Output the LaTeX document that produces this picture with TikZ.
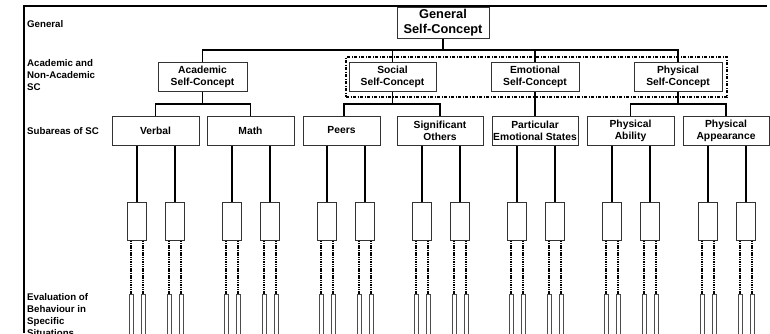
\documentclass[tikz,border=0pt]{standalone}
\usepackage{fontspec}
\setmainfont{Liberation Sans}
\begin{document}
\begin{tikzpicture}[x=1pt,y=-1pt,
  conn/.style = {line width=1.6pt},
  box/.style = {draw=black!80,line width=1pt,fill=white,align=center,inner sep=0pt,
     minimum height=29pt,font=\fontsize{10.3}{12}\selectfont\bfseries},
  lbl/.style = {anchor=west,align=left,inner sep=0pt,
     font=\fontsize{9.7}{12}\selectfont\bfseries},
  sbox/.style = {draw=black!80,line width=1pt,minimum width=19pt,
     minimum height=38pt,inner sep=0pt},
  tbox/.style = {draw=black!70,line width=0.9pt,minimum width=4pt,
     minimum height=50pt,inner sep=0pt,anchor=north},
  dline/.style = {line width=1.5pt,dash pattern=on 1.5pt off 0.8pt},
  grpline/.style = {draw,line width=1.2pt,
     dash pattern=on 3pt off 1.5pt on 1pt off 1.5pt}]
   \useasboundingbox (0,0) rectangle (770,333);
   \clip (0,0) rectangle (770,333);
   \draw[line width=1.3pt] (24,333) -- (24,6) -- (767,6);
   % row labels
   \node[lbl] (lgen) at (27,24) {General};
   \node[lbl] (lnon) at (27,75) {Academic and\\Non-Academic\\SC};
   \node[lbl] (lsub) at (27,131) {Subareas of SC};
   \node[lbl] (leval) at (27,315) {Evaluation of\\Behaviour in\\Specific\\Situations};
   % top levels
   \node[box,minimum width=92pt,minimum height=31pt,
     font=\fontsize{12.8}{15}\selectfont\bfseries] (gen) at (443,22.5) {General\\Self-Concept};
   \node[grpline,minimum width=381pt,minimum height=40pt] (nonac) at (536.5,77) {};
   \node[box,minimum width=89pt] (acad) at (202.5,76.5) {Academic\\Self-Concept};
   \node[box,minimum width=87pt] (soc) at (392.5,76.5) {Social\\Self-Concept};
   \node[box,minimum width=88pt] (emo) at (535,76.5) {Emotional\\Self-Concept};
   \node[box,minimum width=88pt] (phy) at (678,76.5) {Physical\\Self-Concept};
   % subareas
   \node[box,minimum width=87pt] (verbal) at (155.5,130.5) {Verbal};
   \node[box,minimum width=87pt] (math) at (250.5,130.5) {Math};
   \node[box,minimum width=77pt] (peers) at (341.5,130.5) {Peers};
   \node[box,minimum width=86pt] (sig) at (440,130.5) {Significant\\Others};
   \node[box,minimum width=86pt] (emos) at (535,130.5) {Particular\\Emotional States};
   \node[box,minimum width=87pt] (abil) at (630.5,130.5) {Physical\\Ability};
   \node[box,minimum width=86pt] (appear) at (726,130.5) {Physical\\Appearance};
   % tree
   \coordinate (gj) at (443,50);
   \coordinate (aj) at (202.5,104);
   \coordinate (sj) at (392.5,104);
   \coordinate (pj) at (678,104);
   \draw[conn] (gen.south) -- (gj);
   \draw[conn] (acad.north) |- (gj) -| (phy.north);
   \draw[conn] (soc.north |- gj) -- (soc.north);
   \draw[conn] (emo.north |- gj) -- (emo.north);
   \draw[conn] (acad.south) -- (aj);
   \draw[conn] (verbal.north) |- (aj) -| (math.north);
   \draw[conn] (soc.south) -- (sj);
   \draw[conn] ([xshift=2.5pt]peers.north) |- (sj) -| (sig.north);
   \draw[conn] (emo.south) -- (emos.north);
   \draw[conn] (phy.south) -- (pj);
   \draw[conn] (abil.north) |- (pj) -| (appear.north);
   % lower levels
   \foreach \x/\p [count=\i] in {137/verbal,175/verbal,232/math,270/math,
       327/peers,365/peers,422/sig,460/sig,517/emos,555/emos,
       612/abil,650/abil,708/appear,746/appear}
   {
     \node[sbox] (sb\i) at (\x,221) {};
     \node[tbox] (ta\i) at (\x-6,294) {};
     \node[tbox] (tb\i) at (\x+6,294) {};
     \draw[conn] (\p.south -| sb\i.north) -- (sb\i.north);
     \draw[dline] (sb\i.south -| ta\i.north) -- (ta\i.north);
     \draw[dline] (sb\i.south -| tb\i.north) -- (tb\i.north);
   }
\end{tikzpicture}
\end{document}
